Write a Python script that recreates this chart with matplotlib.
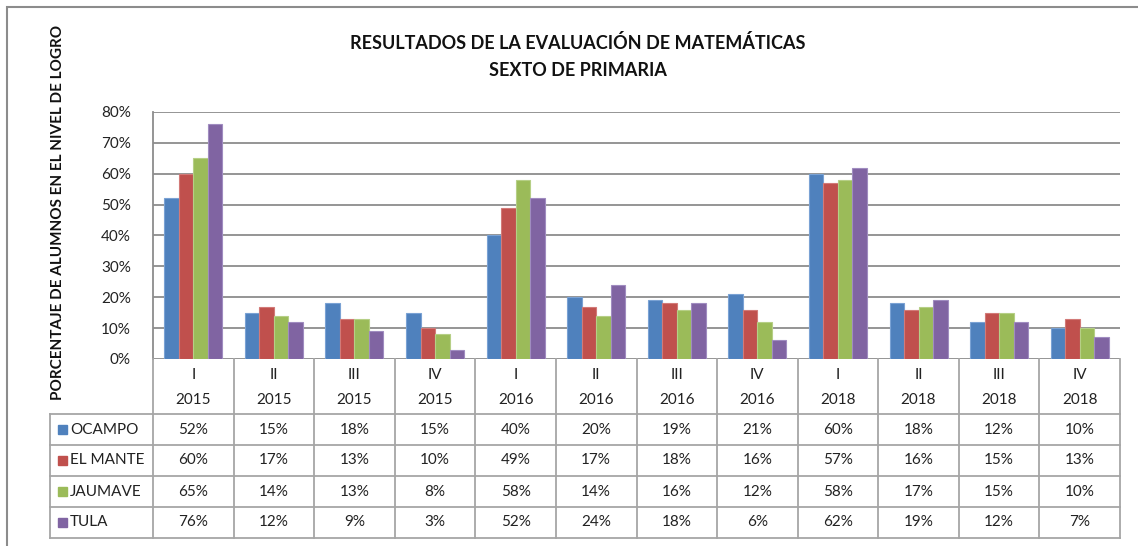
import numpy as np
import matplotlib.pyplot as plt
from matplotlib.patches import Rectangle
from matplotlib.lines import Line2D

plt.rcParams['font.family'] = ['Lato', 'DejaVu Sans']

# Data
trimestres = ['I', 'II', 'III', 'IV', 'I', 'II', 'III', 'IV', 'I', 'II', 'III', 'IV']
anios = ['2015', '2015', '2015', '2015', '2016', '2016', '2016', '2016', '2018', '2018', '2018', '2018']
ocampo = [52, 15, 18, 15, 40, 20, 19, 21, 60, 18, 12, 10]
el_mante = [60, 17, 13, 10, 49, 17, 18, 16, 57, 16, 15, 13]
jaumave = [65, 14, 13, 8, 58, 14, 16, 12, 58, 17, 15, 10]
tula = [76, 12, 9, 3, 52, 24, 18, 6, 62, 19, 12, 7]
series = ['OCAMPO', 'EL MANTE', 'JAUMAVE', 'TULA']
colors = ['#4F81BD', '#C0504D', '#9BBB59', '#8064A2']
edges = ['#7aa2d4', '#d27a78', '#b6cf86', '#a08cc0']

W, H = 1138, 546
fig = plt.figure(figsize=(W / 100, H / 100), dpi=100)


def box(x0, y0, x1, y1):
    # pixel box (top-left origin) -> figure fraction
    return [x0 / W, 1 - y1 / H, (x1 - x0) / W, (y1 - y0) / H]


# outer frame
fig.add_artist(Rectangle((7 / W, -0.1), 1.2, 1 - 7 / H + 0.1, transform=fig.transFigure,
                         fill=False, edgecolor='#8c8c8c', linewidth=1.5))

ax = fig.add_axes(box(153, 112, 1120, 359))
n = len(trimestres)
x = np.arange(n)
bw = 0.18
for i, (vals, c, e) in enumerate(zip([ocampo, el_mante, jaumave, tula], colors, edges)):
    ax.bar(x + (i - 1.5) * bw, np.array(vals) / 100, width=bw, color=c,
           edgecolor=e, linewidth=0.8, zorder=3)

ax.set_xlim(-0.5, n - 0.5)
ax.set_ylim(0, 0.8)
ax.set_yticks(np.arange(0, 0.81, 0.1))
ax.set_yticklabels([f'{int(round(v * 100))}%' for v in np.arange(0, 0.81, 0.1)],
                   fontsize=11, color='#222222')
ax.tick_params(axis='y', length=0, pad=16)
ax.set_xticks([])
ax.grid(axis='y', color='#8c8c8c', linewidth=1.3, zorder=0)
for s in ['top', 'right', 'bottom']:
    ax.spines[s].set_visible(False)
ax.spines['left'].set_color('#8c8c8c')
ax.spines['left'].set_linewidth(1.3)

# title and y label
fig.text(578 / W, 1 - 43 / H, 'RESULTADOS DE LA EVALUACIÓN DE MATEMÁTICAS',
         ha='center', va='center', fontsize=13, fontweight='bold', color='#111111')
fig.text(578 / W, 1 - 70 / H, 'SEXTO DE PRIMARIA',
         ha='center', va='center', fontsize=13, fontweight='bold', color='#111111')
fig.text(58 / W, 1 - 212 / H, 'PORCENTAJE DE ALUMNOS EN EL NIVEL DE LOGRO',
         ha='center', va='center', rotation=90, fontsize=11, fontweight='bold', color='#111111')

# data table under the chart
tax = fig.add_axes(box(153, 359, 1120, 538))
tax.set_xlim(-0.5, n - 0.5)
tax.set_ylim(179, 0)
tax.axis('off')
px = (n) / (1120 - 153)
left = -0.5 - (153 - 50) * px
lc = '#a6a6a6'
lw = 1.3
row_tops = [55, 86, 117, 148, 179]
# horizontal lines
for yy in row_tops:
    tax.add_line(Line2D([left, n - 0.5], [yy, yy], color=lc, lw=lw, clip_on=False))
# vertical lines
for xb in np.arange(-0.5, n, 1.0):
    tax.add_line(Line2D([xb, xb], [0, 179], color=lc, lw=lw, clip_on=False))
tax.add_line(Line2D([left, left], [55, 179], color=lc, lw=lw, clip_on=False))

for i in range(n):
    tax.text(i, 16, trimestres[i], ha='center', va='center', fontsize=11, color='#222222')
    tax.text(i, 41, anios[i], ha='center', va='center', fontsize=11, color='#222222')

for r, (name, vals, c) in enumerate(zip(series, [ocampo, el_mante, jaumave, tula], colors)):
    yc = row_tops[r] + 15.5
    tax.add_patch(Rectangle((left + 8 * px, yc - 4.5), 9 * px, 9, color=c, clip_on=False))
    tax.text(left + 20 * px, yc, name, ha='left', va='center', fontsize=11, color='#222222')
    for i in range(n):
        tax.text(i, yc, f'{vals[i]}%', ha='center', va='center', fontsize=11, color='#222222')

fig.savefig('out.png', dpi=100)
